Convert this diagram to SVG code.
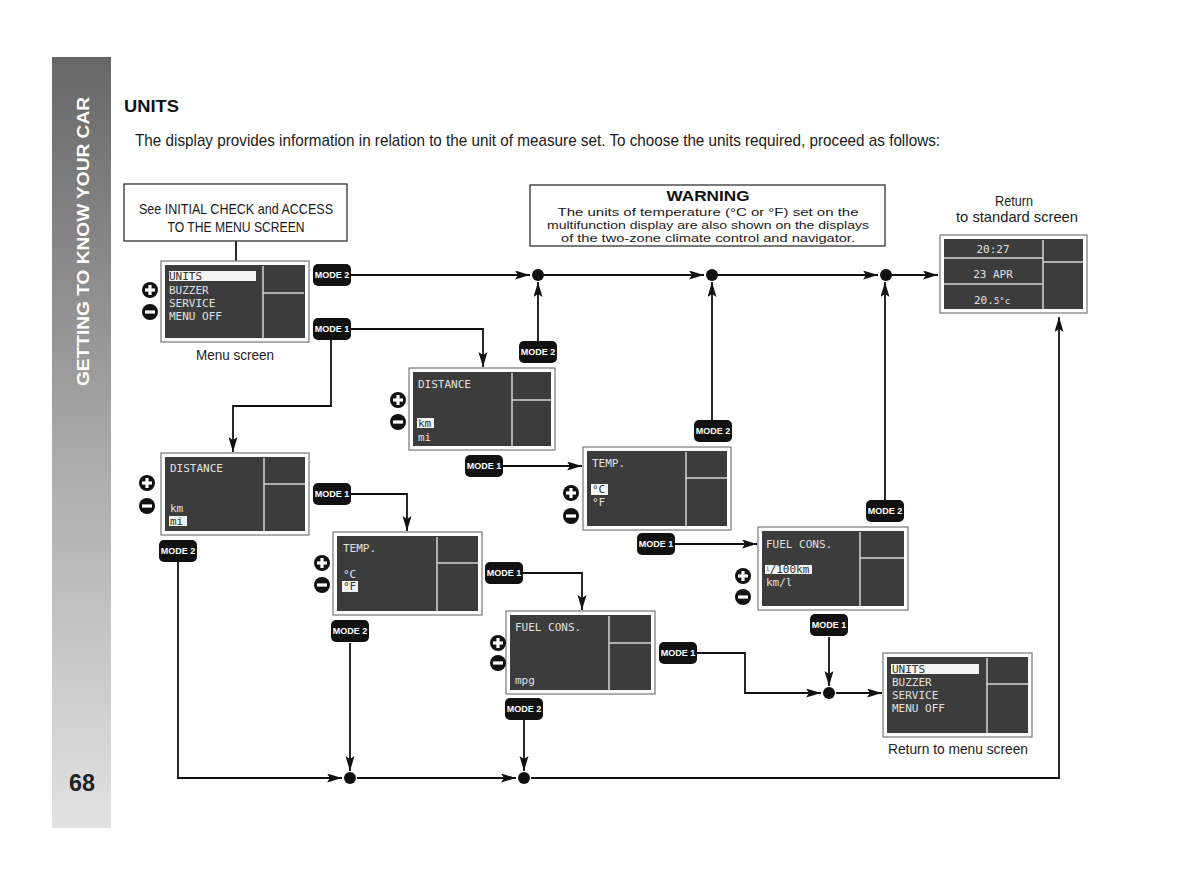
<svg xmlns="http://www.w3.org/2000/svg" width="1200" height="886" viewBox="0 0 1200 886">
<defs>
<linearGradient id="side" x1="0" y1="0" x2="0" y2="1">
<stop offset="0" stop-color="#676767"/>
<stop offset="0.5" stop-color="#a8a8a8"/>
<stop offset="1" stop-color="#e2e2e2"/>
</linearGradient>
<marker id="ah" markerUnits="userSpaceOnUse" markerWidth="16" markerHeight="10" refX="15" refY="4.5" orient="auto">
<path d="M0,0 L15,4.5 L0,9 L3,4.5 z" fill="#111"/>
</marker>
<symbol id="plus" overflow="visible"><circle r="8" fill="#111"/><rect x="-5" y="-1.6" width="10" height="3.2" fill="#fff"/><rect x="-1.6" y="-5" width="3.2" height="10" fill="#fff"/></symbol>
<symbol id="minus" overflow="visible"><circle r="8" fill="#111"/><rect x="-5" y="-1.6" width="10" height="3.2" fill="#fff"/></symbol>
</defs>
<style>
.t{font-family:"Liberation Sans Narrow","Liberation Sans",Arial,sans-serif;fill:#1a1a1a}
.lcd{font-family:"DejaVu Sans Mono","Liberation Mono",monospace;font-size:11px;fill:#e0e0e0}
.hl{fill:#f4f4f4}
.hlt{font-family:"DejaVu Sans Mono","Liberation Mono",monospace;font-size:11px;fill:#333}
.outer{fill:#fff;stroke:#777;stroke-width:1.2}
.inner{fill:#3c3c3c}
.div{stroke:#d4d4d4;stroke-width:1.5;fill:none}
.badge rect{fill:#111}
.badge text{font-family:"Liberation Sans Narrow","Liberation Sans",Arial,sans-serif;font-weight:bold;font-size:9px;fill:#fff;text-anchor:middle}
.conn path{fill:none;stroke:#111;stroke-width:1.8}
.dot{fill:#111}
.box{fill:#fff;stroke:#333;stroke-width:1.3}
</style>
<rect width="1200" height="886" fill="#fff"/>
<g id="sidebar">
<rect x="52" y="57" width="59" height="771" fill="url(#side)"/>
<text transform="translate(89,386) rotate(-90)" font-family="Liberation Sans, Arial, sans-serif" font-weight="900" font-size="17" fill="#fff" textLength="289" lengthAdjust="spacingAndGlyphs">GETTING TO KNOW YOUR CAR</text>
<text x="82" y="791" font-family="Liberation Sans, Arial, sans-serif" font-weight="bold" font-size="23" fill="#222" text-anchor="middle" textLength="26" lengthAdjust="spacingAndGlyphs">68</text>
</g>
<g id="title">
<text x="124" y="112" font-family="Liberation Sans, Arial, sans-serif" font-weight="900" font-size="17" fill="#111" textLength="55" lengthAdjust="spacingAndGlyphs">UNITS</text>
<text class="t" x="135" y="146" font-size="17" textLength="805" lengthAdjust="spacingAndGlyphs">The display provides information in relation to the unit of measure set. To choose the units required, proceed as follows:</text>
</g>
<g id="connectors" class="conn">
<path d="M236,241 V261"/>
<path d="M351,275 H530" marker-end="url(#ah)"/>
<path d="M544,275 H704" marker-end="url(#ah)"/>
<path d="M718,275 H878" marker-end="url(#ah)"/>
<path d="M892,275 H938" marker-end="url(#ah)"/>
<path d="M538,341 V282" marker-end="url(#ah)"/>
<path d="M712,420 V282" marker-end="url(#ah)"/>
<path d="M885,500 V282" marker-end="url(#ah)"/>
<path d="M351,329 H483 V367" marker-end="url(#ah)"/>
<path d="M331,340 V406 H233 V452" marker-end="url(#ah)"/>
<path d="M351,494 H407 V531" marker-end="url(#ah)"/>
<path d="M523,573 H582 V610" marker-end="url(#ah)"/>
<path d="M697,653 H745 V693 H821" marker-end="url(#ah)"/>
<path d="M836,693 H882" marker-end="url(#ah)"/>
<path d="M503,466 H582" marker-end="url(#ah)"/>
<path d="M675,544 H757" marker-end="url(#ah)"/>
<path d="M829,637 V686" marker-end="url(#ah)"/>
<path d="M178,562 V778 H342" marker-end="url(#ah)"/>
<path d="M350,643 V771" marker-end="url(#ah)"/>
<path d="M357,778 H516" marker-end="url(#ah)"/>
<path d="M524,720 V771" marker-end="url(#ah)"/>
<path d="M531,778 H1059 V317" marker-end="url(#ah)"/>
<circle class="dot" cx="538" cy="275" r="6"/>
<circle class="dot" cx="712" cy="275" r="6"/>
<circle class="dot" cx="886" cy="275" r="6"/>
<circle class="dot" cx="829" cy="693" r="6"/>
<circle class="dot" cx="350" cy="778" r="6"/>
<circle class="dot" cx="524" cy="778" r="6"/>
</g>
<g id="initial-box">
<rect class="box" x="124" y="184" width="223" height="57"/>
<text class="t" x="236" y="214" font-size="15" text-anchor="middle" textLength="194" lengthAdjust="spacingAndGlyphs">See INITIAL CHECK and ACCESS</text>
<text class="t" x="236" y="232" font-size="15" text-anchor="middle" textLength="137" lengthAdjust="spacingAndGlyphs">TO THE MENU SCREEN</text>
</g>
<g id="warning">
<rect class="box" x="530" y="185" width="355" height="61"/>
<text x="708" y="201" font-family="Liberation Sans, Arial, sans-serif" font-weight="bold" font-size="15" fill="#111" text-anchor="middle" textLength="83" lengthAdjust="spacingAndGlyphs">WARNING</text>
<text class="t" x="708" y="215.5" font-size="11.5" text-anchor="middle" textLength="301" lengthAdjust="spacingAndGlyphs">The units of temperature (°C or °F) set on the</text>
<text class="t" x="708" y="228.5" font-size="11.5" text-anchor="middle" textLength="322" lengthAdjust="spacingAndGlyphs">multifunction display are also shown on the displays</text>
<text class="t" x="708" y="241.5" font-size="11.5" text-anchor="middle" textLength="294" lengthAdjust="spacingAndGlyphs">of the two-zone climate control and navigator.</text>
</g>
<g id="menu-screen">
<rect class="outer" x="161" y="261" width="148" height="81"/>
<rect class="inner" x="165" y="265" width="140" height="73"/>
<path class="div" d="M263,266 V338 M263,293 H304"/>
<rect class="hl" x="169" y="271" width="87" height="10"/>
<text class="hlt" x="169" y="280">UNITS</text>
<text class="lcd" x="169" y="294">BUZZER</text>
<text class="lcd" x="169" y="307">SERVICE</text>
<text class="lcd" x="169" y="320">MENU OFF</text>
<use href="#plus" x="150" y="290"/>
<use href="#minus" x="150" y="312"/>
<text class="t" x="235" y="360" font-size="15" text-anchor="middle" textLength="78" lengthAdjust="spacingAndGlyphs">Menu screen</text>
</g>
<g id="standard-screen">
<text class="t" x="1014" y="206" font-size="15" text-anchor="middle" textLength="38" lengthAdjust="spacingAndGlyphs">Return</text>
<text class="t" x="1017" y="222" font-size="15" text-anchor="middle" textLength="122" lengthAdjust="spacingAndGlyphs">to standard screen</text>
<rect class="outer" x="940" y="235" width="147" height="78"/>
<rect class="inner" x="944" y="239" width="139" height="70"/>
<path class="div" d="M1043,240 V309 M1043,262 H1083 M944,258 H1043 M944,284 H1043"/>
<text class="lcd" x="993" y="253" font-size="16" text-anchor="middle">20:27</text>
<text class="lcd" x="993" y="278" font-size="13" text-anchor="middle">23 APR</text>
<text class="lcd" x="974" y="304" font-size="14">20.<tspan font-size="9">5°c</tspan></text>
</g>
<g id="distance-km">
<rect class="outer" x="409" y="368" width="146" height="82"/>
<rect class="inner" x="413" y="372" width="138" height="74"/>
<path class="div" d="M512,373 V446 M512,400 H551"/>
<text class="lcd" x="418" y="388">DISTANCE</text>
<rect class="hl" x="417" y="418" width="17" height="10"/>
<text class="hlt" x="418" y="427">km</text>
<text class="lcd" x="418" y="441">mi</text>
<use href="#plus" x="398" y="400"/>
<use href="#minus" x="398" y="422"/>
</g>
<g id="distance-mi">
<rect class="outer" x="161" y="453" width="148" height="82"/>
<rect class="inner" x="165" y="457" width="140" height="74"/>
<path class="div" d="M264,458 V531 M264,484 H305"/>
<text class="lcd" x="170" y="472">DISTANCE</text>
<text class="lcd" x="170" y="512">km</text>
<rect class="hl" x="169" y="516" width="18" height="10"/>
<text class="hlt" x="170" y="525">mi</text>
<use href="#plus" x="147" y="483"/>
<use href="#minus" x="147" y="506"/>
</g>
<g id="temp-f">
<rect class="outer" x="333" y="532" width="149" height="83"/>
<rect class="inner" x="337" y="536" width="141" height="75"/>
<path class="div" d="M437,537 V611 M437,563 H478"/>
<text class="lcd" x="343" y="552">TEMP.</text>
<text class="lcd" x="343" y="578">°C</text>
<rect class="hl" x="342" y="581" width="16" height="11"/>
<text class="hlt" x="343" y="590">°F</text>
<use href="#plus" x="322" y="563"/>
<use href="#minus" x="322" y="585"/>
</g>
<g id="temp-c">
<rect class="outer" x="583" y="447" width="148" height="83"/>
<rect class="inner" x="587" y="451" width="140" height="75"/>
<path class="div" d="M686,452 V526 M686,478 H727"/>
<text class="lcd" x="592" y="467">TEMP.</text>
<rect class="hl" x="591" y="484" width="17" height="11"/>
<text class="hlt" x="592" y="493">°C</text>
<text class="lcd" x="592" y="506">°F</text>
<use href="#plus" x="571" y="493"/>
<use href="#minus" x="571" y="516"/>
</g>
<g id="fuel-mpg">
<rect class="outer" x="506" y="611" width="149" height="83"/>
<rect class="inner" x="510" y="615" width="141" height="75"/>
<path class="div" d="M609,616 V690 M609,643 H651"/>
<text class="lcd" x="515" y="631">FUEL CONS.</text>
<text class="lcd" x="515" y="684" font-size="8">mpg</text>
<use href="#plus" x="498" y="643"/>
<use href="#minus" x="498" y="663"/>
</g>
<g id="fuel-l100">
<rect class="outer" x="758" y="527" width="150" height="83"/>
<rect class="inner" x="762" y="531" width="142" height="75"/>
<path class="div" d="M860,532 V606 M860,558 H904"/>
<text class="lcd" x="766" y="548">FUEL CONS.</text>
<rect class="hl" x="765" y="565" width="47" height="9"/>
<text class="hlt" x="766" y="573" font-size="8"><tspan font-size="6" dy="-2">l</tspan><tspan dy="2">/100km</tspan></text>
<text class="lcd" x="766" y="586">km/l</text>
<use href="#plus" x="743" y="576"/>
<use href="#minus" x="743" y="597"/>
</g>
<g id="return-menu">
<rect class="outer" x="883" y="653" width="149" height="84"/>
<rect class="inner" x="887" y="657" width="141" height="76"/>
<path class="div" d="M987,658 V733 M987,684 H1028"/>
<rect class="hl" x="891" y="664" width="88" height="10"/>
<text class="hlt" x="892" y="673">UNITS</text>
<text class="lcd" x="892" y="686">BUZZER</text>
<text class="lcd" x="892" y="699">SERVICE</text>
<text class="lcd" x="892" y="712">MENU OFF</text>
<text class="t" x="958" y="754" font-size="15" text-anchor="middle" textLength="140" lengthAdjust="spacingAndGlyphs">Return to menu screen</text>
</g>
<g id="badges" class="badge">
<g id="b-menu-m2"><rect x="313" y="264" width="38" height="22" rx="5"/><text x="332" y="278">MODE 2</text></g>
<g id="b-menu-m1"><rect x="313" y="318" width="38" height="22" rx="5"/><text x="332" y="332">MODE 1</text></g>
<g id="b-km-m2"><rect x="519" y="341" width="38" height="22" rx="5"/><text x="538" y="355">MODE 2</text></g>
<g id="b-mi-m1"><rect x="313" y="483" width="38" height="22" rx="5"/><text x="332" y="497">MODE 1</text></g>
<g id="b-mi-m2"><rect x="159" y="540" width="38" height="22" rx="5"/><text x="178" y="554">MODE 2</text></g>
<g id="b-tf-m1"><rect x="485" y="562" width="38" height="22" rx="5"/><text x="504" y="576">MODE 1</text></g>
<g id="b-tf-m2"><rect x="331" y="620" width="38" height="22" rx="5"/><text x="350" y="634">MODE 2</text></g>
<g id="b-fm-m1"><rect x="659" y="642" width="38" height="22" rx="5"/><text x="678" y="656">MODE 1</text></g>
<g id="b-fm-m2"><rect x="505" y="698" width="38" height="22" rx="5"/><text x="524" y="712">MODE 2</text></g>
<g id="b-tc-m1"><rect x="465" y="455" width="38" height="22" rx="5"/><text x="484" y="469">MODE 1</text></g>
<g id="b-tc-m2"><rect x="694" y="420" width="38" height="22" rx="5"/><text x="713" y="434">MODE 2</text></g>
<g id="b-fl-m1a"><rect x="637" y="533" width="38" height="22" rx="5"/><text x="656" y="547">MODE 1</text></g>
<g id="b-fl-m1b"><rect x="810" y="614" width="38" height="22" rx="5"/><text x="829" y="628">MODE 1</text></g>
<g id="b-fl-m2"><rect x="866" y="500" width="38" height="22" rx="5"/><text x="885" y="514">MODE 2</text></g>
</g>
</svg>
